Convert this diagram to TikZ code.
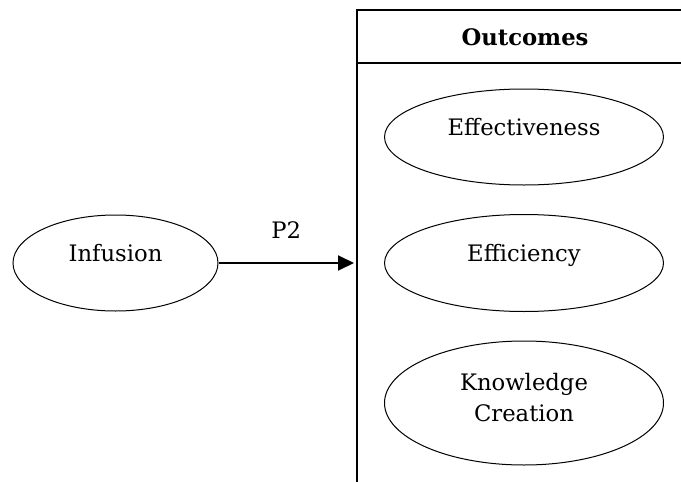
\documentclass[tikz,border=0pt]{standalone}
\usepackage{fontspec}
\setmainfont{DejaVu Serif}
\usetikzlibrary{shapes.geometric,arrows.meta}
\begin{document}
\begin{tikzpicture}[x=1pt,y=-1pt,
  font=\fontsize{22.7}{31}\selectfont,
  oval/.style={draw, line width=1pt, ellipse, inner sep=0pt,
    minimum width=279pt, minimum height=96pt,
    text height=12pt, text depth=15pt},
  frame/.style={line width=1.5pt, line join=miter},
  link/.style={line width=2pt, -{Triangle[length=16pt,width=15pt]}}]
  \useasboundingbox (0,0) rectangle (681,482);

  % outcomes panel: open frame with a header row
  \draw[frame] (681,10) -- (357,10) -- (357,482);
  \draw[frame] (357,63) -- (681,63);
  \node[font=\fontsize{22.7}{31}\selectfont\bfseries] (head) at (525,37) {Outcomes};

  % outcome ellipses
  \node[oval] (eff) at (524,137) {Effectiveness};
  \node[oval, minimum height=97pt] (effi) at (524,263) {Efficiency};
  \node[draw, line width=1pt, ellipse, inner sep=0pt, align=center,
        minimum width=279pt, minimum height=124pt,
        text height=45pt, text depth=8pt] (kc) at (524,403)
        {Knowledge\\Creation};

  % source construct and proposition arrow
  \node[oval, minimum width=205pt] (inf) at (115.5,263) {Infusion};
  \coordinate (tip) at (354,263);
  \draw[link] (inf) -- (tip) node[midway, above=24pt, inner sep=0pt] (p2) {P2};
\end{tikzpicture}
\end{document}
